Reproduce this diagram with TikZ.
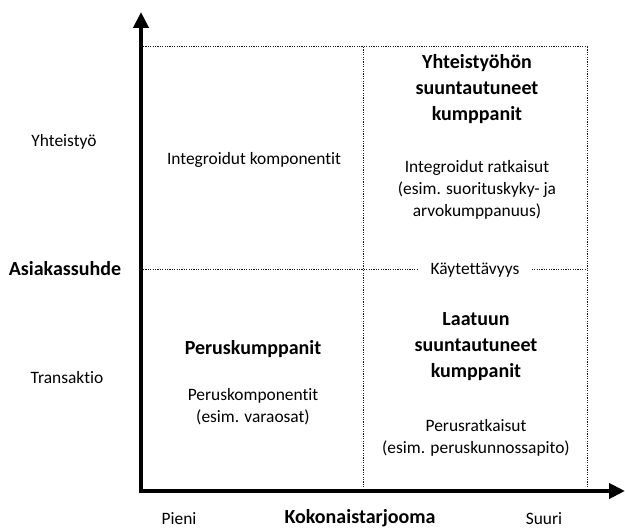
\documentclass[tikz,border=0pt]{standalone}
\usepackage{fontspec}
\setmainfont[Ligatures={NoCommon}]{Carlito}
\usetikzlibrary{arrows.meta}
\begin{document}
\begin{tikzpicture}[x=1pt,y=-1pt,
  axis/.style={line width=4pt,-{Triangle[length=16pt,width=15pt]}},
  grid/.style={dash pattern=on 1.2pt off 1.2pt,line width=1pt,black!90},
  norm/.style={font=\fontsize{17.4}{22}\selectfont,align=center,inner sep=0pt},
  boldt/.style={font=\fontsize{20}{26}\selectfont\bfseries,align=center,inner sep=0pt},
]
\useasboundingbox (0,0) rectangle (625,529);
% frame coordinates
\coordinate (O) at (141,491);
\coordinate (ytop) at (141,12);
\coordinate (xend) at (625,491);
\coordinate (tl) at (143,47);
\coordinate (tm) at (363,47);
\coordinate (tr) at (587,47);
\coordinate (ml) at (143,270);
\coordinate (mr) at (587,270);
\coordinate (bm) at (363,489);
\coordinate (br) at (587,489);
% dotted grid
\draw[grid] (tl) -- (tr) -- (br);
\draw[grid] (tm) -- (bm);
\draw[grid] (ml) -- (mr);
% axes
\draw[axis] (O) -- (ytop);
\draw[axis] ([xshift=-2pt]O) -- (xend);
% axis labels
\node[norm] (yh) at (64,142) {Yhteistyö};
\node[boldt] (as) at (65,269) {Asiakassuhde};
\node[norm] (tr2) at (67,378) {Transaktio};
\node[norm] (pi) at (179,519) {Pieni};
\node[boldt] (ko) at (360,518) {Kokonaistarjooma};
\node[norm] (su) at (544,519) {Suuri};
% usability label
\node[norm,fill=white,inner xsep=12pt,inner ysep=2pt] (ka) at (475,270) {Käytettävyys};
% quadrants
\node[norm] (ik) at (254,160) {Integroidut komponentit};
\node[boldt] (yk) at (477,89) {Yhteistyöhön\\suuntautuneet\\kumppanit};
\node[norm] (ir) at (477,190) {Integroidut ratkaisut\\(esim. suorituskyky- ja\\arvokumppanuus)};
\node[boldt] (pk) at (253,349) {Peruskumppanit};
\node[norm] (pko) at (253,407) {Peruskomponentit\\(esim. varaosat)};
\node[boldt] (lk) at (476,347) {Laatuun\\suuntautuneet\\kumppanit};
\node[norm] (pr) at (476,438) {Perusratkaisut\\(esim. peruskunnossapito)};
\end{tikzpicture}
\end{document}
